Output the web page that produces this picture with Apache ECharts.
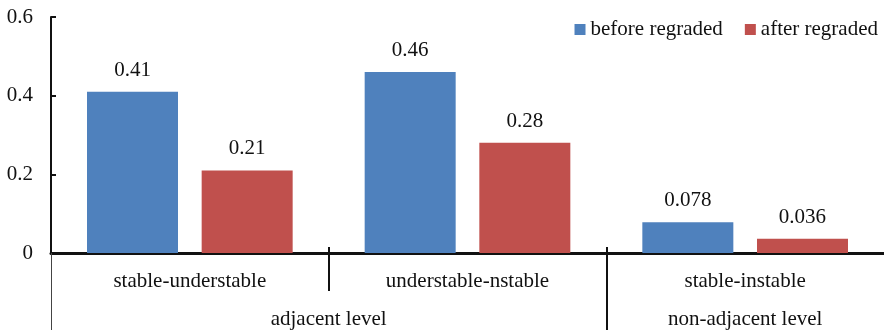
<!DOCTYPE html>
<html>
<head>
<meta charset="utf-8">
<script src="https://cdn.jsdelivr.net/npm/echarts@6/dist/echarts.min.js"></script>
<style>
  html, body { margin: 0; padding: 0; background: #fff; }
  #chart { width: 884px; height: 332px; }
</style>
</head>
<body>
<div id="chart"></div>
<script>
// Transition categories and the level groups they belong to
const categories = ['stable-understable', 'understable-nstable', 'stable-instable'];
const groupNames = ['adjacent level', 'non-adjacent level'];
// Group label centres and boundaries on a 0..3 scale spanning the three categories
const groupCenters = [1, 2.5];
const groupBounds = [2];

const seriesNames = ['before regraded', 'after regraded'];
const beforeValues = [0.41, 0.46, 0.078];
const afterValues = [0.21, 0.28, 0.036];

const yTicks = [0, 0.2, 0.4, 0.6];

const FONT = '"Liberation Serif", "Times New Roman", serif';
const FS = 21;
const BLACK = '#111';

const chart = echarts.init(document.getElementById('chart'), null, { renderer: 'canvas' });

function tickAxis(values, length, inside, width, color) {
  return {
    type: 'value', min: 0, max: 3, position: 'bottom',
    axisLine: { show: false },
    splitLine: { show: false },
    axisLabel: { show: false },
    axisTick: { show: true, customValues: values, length: length, inside: inside,
      lineStyle: { color: color, width: width } }
  };
}

const option = {
  animation: false,
  textStyle: { fontFamily: FONT },
  grid: { left: 51, right: 0, top: 17, bottom: 79, containLabel: false },
  legend: {
    data: seriesNames,
    right: 1, top: 14,
    itemWidth: 11, itemHeight: 11, itemGap: 22,
    icon: 'rect',
    textStyle: { fontFamily: FONT, fontSize: FS, color: BLACK, padding: [0, 0, 0, 0] }
  },
  xAxis: [
    {
      type: 'category', data: categories, position: 'bottom',
      axisLine: { show: true, lineStyle: { color: BLACK, width: 3 } },
      axisTick: { show: false },
      axisLabel: { fontFamily: FONT, fontSize: FS, color: BLACK, margin: 18 },
      splitLine: { show: false }
    },
    // separator between the two adjacent-level categories
    tickAxis([1], 38, false, 2, BLACK),
    // short marks above the baseline at each category boundary
    tickAxis([1, 2], 6, true, 2, BLACK),
    // boundary between the level groups
    tickAxis(groupBounds, 77, false, 2, BLACK),
    // left edge of the level groups
    tickAxis([0], 77, false, 1, '#444'),
    // level group labels
    {
      type: 'value', min: 0, max: 3, position: 'bottom',
      axisLine: { show: false }, splitLine: { show: false },
      axisTick: { show: false },
      axisLabel: {
        show: true, customValues: groupCenters, margin: 56,
        fontFamily: FONT, fontSize: FS, color: BLACK,
        formatter: function (v) { return groupNames[groupCenters.indexOf(v)]; }
      }
    }
  ],
  yAxis: {
    type: 'value', min: yTicks[0], max: yTicks[yTicks.length - 1], interval: 0.2,
    axisLine: { show: true, lineStyle: { color: BLACK, width: 2 } },
    axisTick: { show: true, inside: true, length: 5, lineStyle: { color: BLACK, width: 2 } },
    splitLine: { show: false },
    axisLabel: { fontFamily: FONT, fontSize: FS, color: BLACK, margin: 18 }
  },
  series: [
    {
      name: seriesNames[0], type: 'bar', data: beforeValues, xAxisIndex: 0,
      barWidth: 91, barGap: '26%',
      itemStyle: { color: '#4F81BD' },
      label: { show: true, position: 'top', distance: 11, fontFamily: FONT, fontSize: FS, color: BLACK }
    },
    {
      name: seriesNames[1], type: 'bar', data: afterValues, xAxisIndex: 0,
      barWidth: 91, barGap: '26%',
      itemStyle: { color: '#C0504D' },
      label: { show: true, position: 'top', distance: 11, fontFamily: FONT, fontSize: FS, color: BLACK }
    }
  ]
};

chart.setOption(option);
</script>
</body>
</html>
